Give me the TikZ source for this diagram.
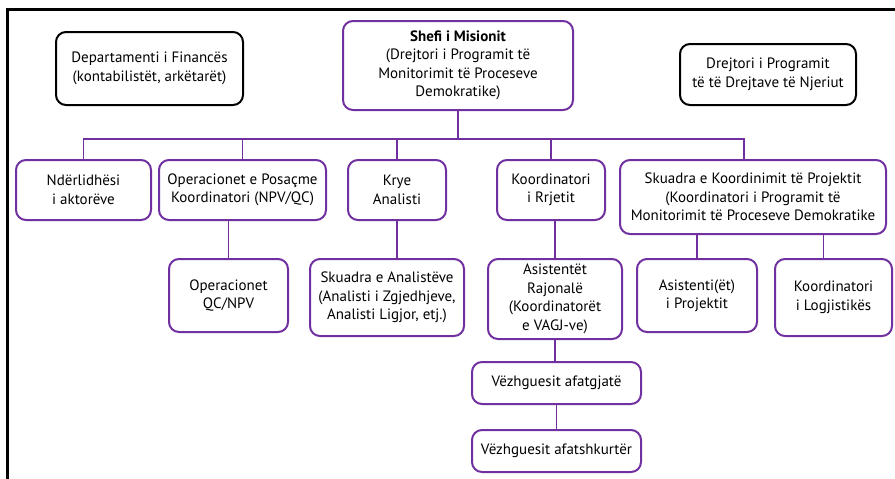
\documentclass[tikz,border=0pt]{standalone}
\usepackage{fontspec}
\setmainfont{PT Sans}
\definecolor{purp}{RGB}{112,48,160}
\begin{document}
\begin{tikzpicture}[x=1pt,y=-1pt,
  box/.style={draw=purp,line width=2pt,rounded corners=10pt,align=center,inner sep=0pt,
    font=\fontsize{15}{18.5}\selectfont},
  bbox/.style={box,draw=black},
  conn/.style={draw=purp,line width=1.5pt}]
\useasboundingbox (0,0) rectangle (895,479);
\draw[line width=3pt] (895,9) -- (7,9) -- (7,480);
\node[box,minimum width=230pt,minimum height=89pt] (shefi) at (458,65.5)
  {\textbf{Shefi i Misionit}\\(Drejtori i Programit të\\Monitorimit të Proceseve\\Demokratike)};
\node[bbox,minimum width=187pt,minimum height=73pt] (fin) at (149.5,68.5)
  {Departamenti i Financës\\(kontabilistët, arkëtarët)};
\node[bbox,minimum width=176pt,minimum height=61pt] (dpnj) at (768,74.5)
  {Drejtori i Programit\\të të Drejtave të Njeriut};
\node[box,minimum width=135pt,minimum height=60pt] (nd) at (83.5,190)
  {Ndërlidhësi\\i aktorëve};
\node[box,minimum width=167pt,minimum height=60pt] (opp) at (242.5,190)
  {Operacionet e Posaçme\\Koordinatori (NPV/QC)};
\node[box,minimum width=98pt,minimum height=60pt] (krye) at (397,190)
  {Krye\\Analisti};
\node[box,minimum width=108pt,minimum height=60pt] (kr) at (551,190)
  {Koordinatori\\i Rrjetit};
\node[box,minimum width=266pt,minimum height=74pt] (sk) at (753,197)
  {Skuadra e Koordinimit të Projektit\\(Koordinatori i Programit të\\Monitorimit të Proceseve Demokratike};
\node[box,minimum width=119pt,minimum height=73pt] (oq) at (228.5,295.5)
  {Operacionet\\QC/NPV};
\node[box,minimum width=154pt,minimum height=77pt] (sa) at (387,297.5)
  {Skuadra e Analistëve\\(Analisti i Zgjedhjeve,\\Analisti Ligjor, etj.)};
\node[box,minimum width=134pt,minimum height=80pt] (ar) at (555,299)
  {Asistentët\\Rajonalë\\(Koordinatorët\\e VAGJ-ve)};
\node[box,minimum width=120pt,minimum height=73pt] (ap) at (697,295.5)
  {Asistenti(ët)\\i Projektit};
\node[box,minimum width=117pt,minimum height=77pt] (kl) at (833.5,297.5)
  {Koordinatori\\i Logjistikës};
\node[box,minimum width=169pt,minimum height=42pt] (va) at (556.5,383)
  {Vëzhguesit afatgjatë};
\node[box,minimum width=169pt,minimum height=42pt] (vs) at (556.5,451)
  {Vëzhguesit afatshkurtër};
\coordinate (bus) at (458,139);
\draw[conn] (shefi.south) -- (bus);
\draw[conn] (nd.north) |- (bus) -| ([xshift=-9pt]sk.north);
\draw[conn] (opp.north) -- (opp.north |- bus);
\draw[conn] (krye.north) -- (krye.north |- bus);
\draw[conn] (kr.north) -- (kr.north |- bus);
\draw[conn] (oq.north) -- (oq.north |- opp.south);
\draw[conn] (krye.south) -- (krye.south |- sa.north);
\draw[conn] (ar.north) -- (ar.north |- kr.south);
\draw[conn] (ap.north) -- (ap.north |- sk.south);
\draw[conn] ([xshift=-10pt]kl.north) -- ([xshift=-10pt]kl.north |- sk.south);
\draw[conn] (ar.south) -- (ar.south |- va.north);
\draw[conn] (va.south) -- (vs.north);
\end{tikzpicture}
\end{document}
